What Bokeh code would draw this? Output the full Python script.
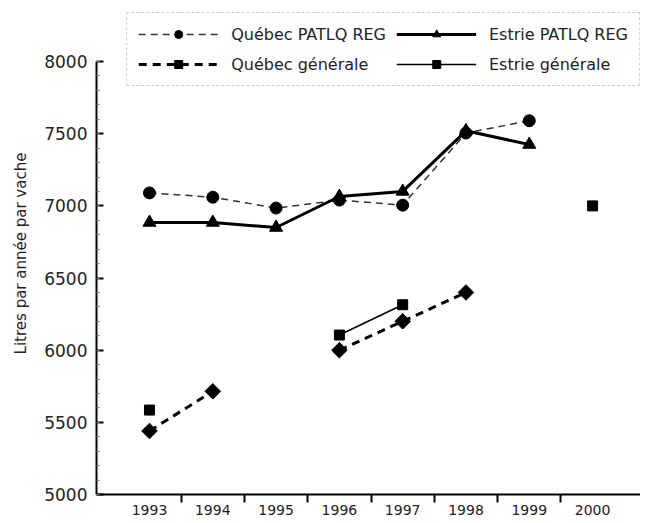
from bokeh.plotting import figure
from bokeh.models import Range1d, FixedTicker, Legend, LegendItem, ColumnDataSource
from bokeh.embed import file_html
from bokeh.resources import INLINE
import numpy as np

years = [1993, 1994, 1995, 1996, 1997, 1998, 1999, 2000]
year_labels = ["1993", "1994", "1995", "1996", "1997", "1998", "1999", "2000"]
nan = float("nan")
quebec_patlq = [7090, 7060, 6985, 7040, 7005, 7505, 7590, nan]
estrie_patlq = [6885, 6885, 6850, 7065, 7100, 7520, 7425, nan]
quebec_gen = [5440, 5715, nan, 6000, 6200, 6400, nan, nan]
estrie_gen = [5585, nan, nan, 6105, 6315, nan, nan, 7000]
y_ticks = [5000, 5500, 6000, 6500, 7000, 7500, 8000]

FONT = "DejaVu Sans"

p = figure(width=640, height=517, output_backend="svg", toolbar_location=None,
           x_range=Range1d(1992.163, 2000.757), y_range=Range1d(5000, 8340),
           min_border_left=96, min_border_top=12, min_border_right=0, min_border_bottom=10)
p.outline_line_color = None
p.xgrid.visible = False
p.ygrid.visible = False

src = ColumnDataSource(dict(x=years, qp=quebec_patlq, ep=estrie_patlq, qg=quebec_gen, eg=estrie_gen))

r1l = p.line("x", "qp", source=src, line_color="#333333", line_width=1.5, line_dash="7 5")
r1m = p.scatter("x", "qp", source=src, marker="circle", size=12, color="black")
r2l = p.line("x", "ep", source=src, line_color="black", line_width=3)
r2m = p.scatter("x", "ep", source=src, marker="triangle", size=13, color="black")
r3l = p.line("x", "qg", source=src, line_color="black", line_width=3, line_dash="8 6")
r3m = p.scatter("x", "qg", source=src, marker="square", angle=np.pi / 4, size=11, color="black")
r4l = p.line("x", "eg", source=src, line_color="black", line_width=1.5)
r4m = p.scatter("x", "eg", source=src, marker="square", size=10, color="black")

# x axis
xa = p.xaxis[0]
xa.ticker = FixedTicker(ticks=years, minor_ticks=[y + 0.5 for y in years[:-1]])
xa.major_label_overrides = {y: l for y, l in zip(years, year_labels)}
xa.major_tick_out = 0
xa.major_tick_in = 0
xa.minor_tick_out = 8
xa.minor_tick_in = 0
xa.minor_tick_line_width = 2
xa.axis_line_width = 2
xa.major_label_standoff = 2
xa.major_label_text_font = FONT
xa.major_label_text_font_size = "14px"
xa.major_label_text_color = "#222222"

# y axis
ya = p.yaxis[0]
ya.bounds = (5000, 8000)
ya.ticker = FixedTicker(ticks=y_ticks, minor_ticks=list(range(5000, 8001, 100)))
ya.major_tick_out = 0
ya.major_tick_in = 7
ya.major_tick_line_width = 2
ya.minor_tick_out = 0
ya.minor_tick_in = 3
ya.minor_tick_line_color = "#777777"
ya.axis_line_width = 2
ya.major_label_standoff = 9
ya.major_label_text_font = FONT
ya.major_label_text_font_size = "17px"
ya.major_label_text_color = "#222222"
ya.axis_label = "Litres par année par vache"
ya.axis_label_text_font = FONT
ya.axis_label_text_font_size = "15px"
ya.axis_label_text_font_style = "normal"
ya.axis_label_text_color = "#222222"
ya.axis_label_standoff = 11

legend = Legend(items=[
    LegendItem(label="Québec PATLQ REG", renderers=[r1l, r1m]),
    LegendItem(label="Québec générale", renderers=[r3l, r3m]),
    LegendItem(label="Estrie PATLQ REG", renderers=[r2l, r2m]),
    LegendItem(label="Estrie générale", renderers=[r4l, r4m]),
], location="top_right", ncols=2)
legend.margin = 0
legend.glyph_width = 80
legend.glyph_height = 20
legend.label_standoff = 13
legend.label_width = 0
legend.spacing = 10
legend.padding = 11
legend.label_text_font = FONT
legend.label_text_font_size = "16px"
legend.label_text_color = "#222222"
legend.border_line_color = "#999999"
legend.border_line_dash = "2 2"
legend.border_line_width = 1
legend.background_fill_color = "white"
legend.background_fill_alpha = 1
p.add_layout(legend, "center")

open("out.html", "w").write(file_html(p, INLINE))
